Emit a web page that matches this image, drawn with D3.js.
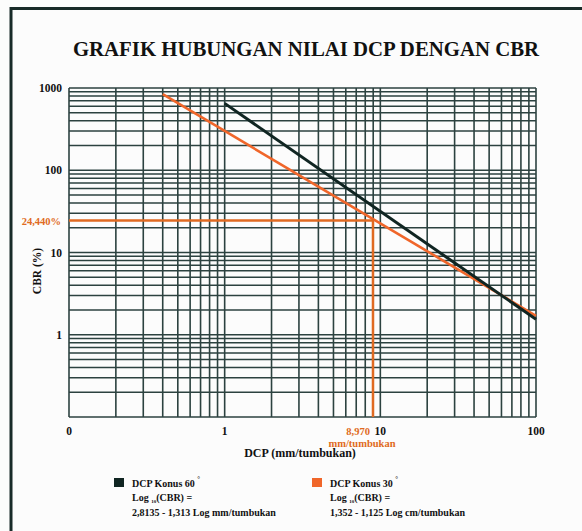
<!DOCTYPE html>
<html>
<head>
<meta charset="utf-8">
<script src="https://cdn.jsdelivr.net/npm/d3@7"></script>
<style>
    html, body { margin: 0; padding: 0; background: #fcfcfc; }
    svg { display: block; }
</style>
</head>
<body>
<script>
'use strict';

// axis ticks (value -> printed label)
var xTickValues = [0.1, 1, 10, 100];
var xTickLabels = ['0', '1', '10', '100'];
var yTickValues = [1000, 100, 10, 1];
var yTickLabels = ['1000', '100', '10', '1'];

// end points (DCP mm/tumbukan, CBR %)
var konus60Dcp = [1, 100];
var konus60Cbr = [650, 1.54];
var konus30Dcp = [0.4, 100];
var konus30Cbr = [840, 1.7];

// marked reading
var markerDcp = 8.97;
var markerCbr = 24.44;
var markerDcpLabel = '8,970';
var markerCbrLabel = '24,440%';

var legendNames = ['DCP Konus 60', 'DCP Konus 30'];
var legendFormulas = ['2,8135 - 1,313 Log  mm/tumbukan', '1,352 - 1,125 Log  cm/tumbukan'];

var width = 582;
var height = 531;
var black = '#102522';
var orange = '#f0662a';
var markOrange = '#e06a22';
var gridColor = '#2c4240';
var serif = '"Liberation Serif", "Times New Roman", serif';

var svg = d3.select('body')
    .append('svg')
    .attr('width', width)
    .attr('height', height)
    .style('font-family', serif)
    .style('font-weight', 'bold')
    .style('white-space', 'pre');

svg.append('rect')
    .attr('width', width)
    .attr('height', height)
    .attr('fill', '#fcfcfc');

// outer frame (left + top only)
svg.append('path')
    .attr('d', 'M11,531 L11,8.5 L582,8.5')
    .attr('fill', 'none')
    .attr('stroke', '#182b29')
    .attr('stroke-width', 3);

svg.append('text')
    .attr('x', 306)
    .attr('y', 56)
    .attr('text-anchor', 'middle')
    .attr('font-size', '20.8px')
    .attr('fill', '#111')
    .text('GRAFIK HUBUNGAN NILAI DCP DENGAN CBR');

var x = d3.scaleLog().domain([0.1, 100]).range([69, 536]);
var y = d3.scaleLog().domain([0.1, 1000]).range([417, 88]);

// log grid
var grid = svg.append('g')
    .attr('stroke', gridColor)
    .attr('stroke-width', 1.6);

grid.selectAll('.vline')
    .data(x.ticks())
    .enter()
    .append('line')
    .attr('x1', function (d) { return x(d); })
    .attr('x2', function (d) { return x(d); })
    .attr('y1', y(0.1))
    .attr('y2', y(1000));

grid.selectAll('.hline')
    .data(y.ticks())
    .enter()
    .append('line')
    .attr('x1', x(0.1))
    .attr('x2', x(100))
    .attr('y1', function (d) { return y(d); })
    .attr('y2', function (d) { return y(d); });

// tick labels
svg.selectAll('.xlabel')
    .data(xTickValues)
    .enter()
    .append('text')
    .attr('x', function (d) { return x(d); })
    .attr('y', 435)
    .attr('text-anchor', 'middle')
    .attr('font-size', '11.5px')
    .attr('fill', '#111')
    .text(function (d, i) { return xTickLabels[i]; });

svg.selectAll('.ylabel')
    .data(yTickValues)
    .enter()
    .append('text')
    .attr('x', 62)
    .attr('y', function (d) { return y(d) + 4; })
    .attr('text-anchor', 'end')
    .attr('font-size', '11.5px')
    .attr('fill', '#111')
    .text(function (d, i) { return yTickLabels[i]; });

svg.append('text')
    .attr('transform', 'translate(41,271) rotate(-90)')
    .attr('text-anchor', 'middle')
    .attr('font-size', '11.5px')
    .attr('fill', '#111')
    .text('CBR (%)');

svg.append('text')
    .attr('x', 300)
    .attr('y', 457)
    .attr('text-anchor', 'middle')
    .attr('font-size', '12px')
    .attr('fill', '#111')
    .text('DCP  (mm/tumbukan)');

// curves
var line = d3.line()
    .x(function (d) { return x(d[0]); })
    .y(function (d) { return y(d[1]); });

svg.append('path')
    .datum(d3.zip(konus30Dcp, konus30Cbr))
    .attr('d', line)
    .attr('fill', 'none')
    .attr('stroke', orange)
    .attr('stroke-width', 2.6);

svg.append('path')
    .datum(d3.zip(konus60Dcp, konus60Cbr))
    .attr('d', line)
    .attr('fill', 'none')
    .attr('stroke', black)
    .attr('stroke-width', 3);

// marked reading
svg.append('path')
    .datum([[0.1, markerCbr], [markerDcp, markerCbr], [markerDcp, 0.1]])
    .attr('d', line)
    .attr('fill', 'none')
    .attr('stroke', markOrange)
    .attr('stroke-width', 2.5);

svg.append('text')
    .attr('x', 61)
    .attr('y', y(markerCbr) + 4)
    .attr('text-anchor', 'end')
    .attr('font-size', '10.5px')
    .attr('fill', markOrange)
    .text(markerCbrLabel);

svg.append('text')
    .attr('x', x(markerDcp) - 3)
    .attr('y', 435)
    .attr('text-anchor', 'end')
    .attr('font-size', '10.5px')
    .attr('fill', markOrange)
    .text(markerDcpLabel);

svg.append('text')
    .attr('x', 362)
    .attr('y', 447)
    .attr('text-anchor', 'middle')
    .attr('font-size', '10.5px')
    .attr('fill', markOrange)
    .text('mm/tumbukan');

// legend
var legendX = [114, 312];
var legendColors = [black, orange];

legendNames.forEach(function (name, i) {
    var g = svg.append('g').attr('transform', 'translate(' + legendX[i] + ',0)');

    g.append('rect')
        .attr('x', 0)
        .attr('y', 478)
        .attr('width', 10)
        .attr('height', 9)
        .attr('fill', legendColors[i]);

    var t = g.append('text')
        .attr('x', 18)
        .attr('y', 487)
        .attr('font-size', '10px')
        .attr('fill', '#111');
    t.append('tspan').text(name + '  ');
    t.append('tspan').attr('dy', -6).attr('font-size', '7px').text('°');

    var l = g.append('text')
        .attr('x', 18)
        .attr('y', 501)
        .attr('font-size', '10px')
        .attr('fill', '#111');
    l.append('tspan').text('Log ');
    l.append('tspan').attr('dy', 2).attr('font-size', '5px').text('10');
    l.append('tspan').attr('dy', -2).text('(CBR) =');

    g.append('text')
        .attr('x', 18)
        .attr('y', 516)
        .attr('font-size', '10px')
        .attr('fill', '#111')
        .text(legendFormulas[i]);
});
</script>
</body>
</html>
